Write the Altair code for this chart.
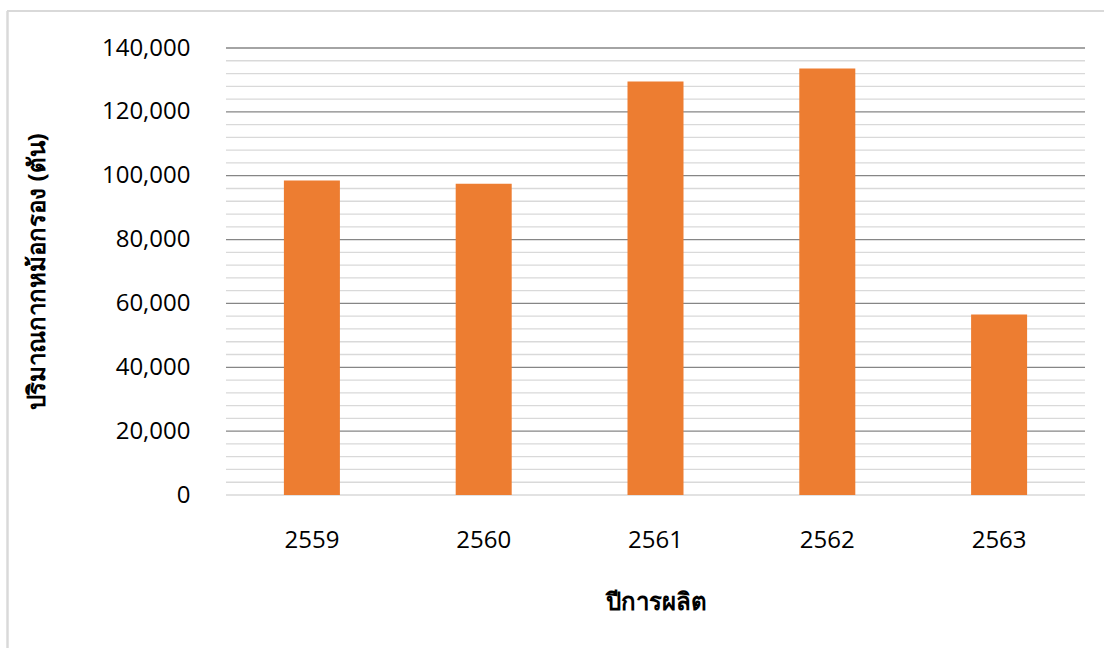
import altair as alt
import pandas as pd

years = ["2559", "2560", "2561", "2562", "2563"]
amounts = [98500, 97500, 129500, 133600, 56500]
major_ticks = [0, 20000, 40000, 60000, 80000, 100000, 120000, 140000]
minor_ticks = [v for v in range(0, 140001, 4000) if v % 20000 != 0] + [0]
major_lines = [v for v in major_ticks if v != 0]

FONT = "Leelawadee UI, Tahoma, Open Sans, sans-serif"

bars_df = pd.DataFrame({"year": years, "amount": amounts})
minor_df = pd.DataFrame({"v": minor_ticks})
major_df = pd.DataFrame({"v": major_lines})

yscale = alt.Scale(domain=[0, 140000], nice=False)

yaxis = alt.Axis(
    title="ปริมาณกากหม้อกรอง (ตัน)",
    values=major_ticks,
    format=",.0f",
    grid=False,
    domain=False,
    ticks=False,
    labelFontSize=24,
    labelFont=FONT,
    labelColor="#000000",
    labelPadding=36,
    titleFont=FONT,
    titleFontSize=24,
    titleFontWeight="bold",
    titleColor="#000000",
    titleAngle=-90,
    titleX=-189,
    titleY=223,
    titleAlign="center",
    titleBaseline="middle",
)

minor = alt.Chart(minor_df).mark_rule(color="#d9d9d9", strokeWidth=1.3).encode(
    y=alt.Y("v:Q", scale=yscale, axis=yaxis, title="ปริมาณกากหม้อกรอง (ตัน)")
)
major = alt.Chart(major_df).mark_rule(color="#868686", strokeWidth=1.3).encode(
    y=alt.Y("v:Q", scale=yscale, axis=yaxis, title="ปริมาณกากหม้อกรอง (ตัน)")
)

bars = alt.Chart(bars_df).mark_bar(color="#ED7D31").encode(
    x=alt.X(
        "year:N",
        sort=years,
        scale=alt.Scale(paddingInner=0.674, paddingOuter=0.337),
        axis=alt.Axis(
            title="ปีการผลิต",
            labelAngle=0,
            labelFontSize=24,
            labelFont=FONT,
            labelColor="#000000",
            labelBaseline="top",
            labelPadding=33,
            domain=False,
            ticks=False,
            titleFont=FONT,
            titleFontSize=24,
            titleFontWeight="bold",
            titleColor="#000000",
            titleY=107,
            titleBaseline="middle",
        ),
    ),
    y=alt.Y("amount:Q", scale=yscale, axis=yaxis, title="ปริมาณกากหม้อกรอง (ตัน)"),
)

border_top = alt.Chart(bars_df).mark_rule(color="#d9d9d9", strokeWidth=1.5).encode(
    x=alt.value(-219), x2=alt.value(900), y=alt.value(-37)
)
border_left = alt.Chart(bars_df).mark_rule(color="#d9d9d9", strokeWidth=1.5).encode(
    x=alt.value(-218.5), y=alt.value(-37), y2=alt.value(700)
)

chart = (
    alt.layer(minor, major, bars, border_top, border_left)
    .properties(
        width=859,
        height=447,
        autosize=alt.AutoSizeParams(type="none"),
        padding={"left": 226, "top": 48, "right": 19, "bottom": 153},
        background="#ffffff",
    )
    .configure_view(stroke=None)
)

chart.save("out.html", embed_options={"renderer": "svg", "actions": False})
